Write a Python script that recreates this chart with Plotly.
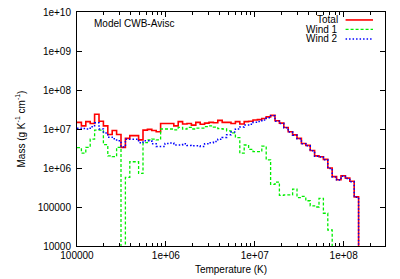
import numpy as np
import plotly.graph_objects as go

# ---- data (log10 of mass per bin; None = empty bin) ----
log_t_min = 5.0      # first bin edge, log10(T)
log_t_bin = 0.0495   # bin width in dex

total_log = [7.17, 7.08, 7.19, 7.14, 7.38, 7.20, 7.08, 6.86, 6.96, 6.86,
             6.53, 6.76, 6.83, 6.83, 6.72, 6.97, 6.99, 6.96, 6.93, 7.14,
             7.14, 7.14, 7.08, 7.19, 7.13, 7.14, 7.10, 7.17, 7.12, 7.15,
             7.17, 7.16, 7.22, 7.17, 7.17, 7.14, 7.19, 7.13, 7.19, 7.20,
             7.23, 7.24, 7.27, 7.31, 7.35, 7.21, 7.15, 7.04, 6.93, 6.85,
             6.76, 6.63, 6.58, 6.45, 6.31, 6.29, 6.22, 6.00, 5.78, 5.70,
             5.80, 5.74, 5.66, 5.26]

wind1_log = [6.52, 6.38, 6.53, 6.74, 6.97, 6.97, 6.60, 6.31, 6.29, 6.53,
             None, 5.76, 6.16, 6.16, 5.86, 6.65, 6.72, 6.74, 6.72, 7.00,
             7.00, 7.00, 6.98, 7.04, 7.00, 7.04, 7.00, 7.02, 7.02, 7.06,
             7.08, 7.05, 7.01, 7.00, 6.95, 6.90, 6.78, 6.38, 6.59, 6.48,
             6.42, 6.42, 6.56, 6.21, 5.58, 5.64, 5.30, 5.31, 5.31, 5.46,
             5.24, 5.27, 5.16, 5.03, 5.00, 5.22, 4.84, 4.41, None, None,
             None, None, None, None]

wind2_log = [7.02, 7.01, 7.00, 7.06, 7.16, 7.00, 6.90, 6.79, 6.75, 6.70,
             6.54, 6.74, 6.74, 6.74, 6.65, 6.70, 6.70, 6.62, 6.55, 6.55,
             6.63, 6.64, 6.59, 6.59, 6.62, 6.58, 6.57, 6.57, 6.55, 6.62,
             6.65, 6.68, 6.74, 6.78, 6.85, 6.92, 7.00, 7.05, 7.10, 7.12,
             7.17, 7.19, 7.23, 7.29, 7.34, 7.20, 7.14, 7.03, 6.92, 6.84,
             6.75, 6.62, 6.57, 6.44, 6.30, 6.28, 6.21, 5.99, 5.77, 5.69,
             5.79, 5.73, 5.65, 5.25]

x_tick_vals = [1e5, 1e6, 1e7, 1e8]
x_tick_text = ["100000", "1e+06", "1e+07", "1e+08"]
y_tick_vals = [1e4, 1e5, 1e6, 1e7, 1e8, 1e9, 1e10]
y_tick_text = ["10000", "100000", "1e+06", "1e+07", "1e+08", "1e+09", "1e+10"]

FLOOR = 1.0  # empty bins drawn far below the axis (clipped)
edges = 10 ** (log_t_min + log_t_bin * np.arange(len(total_log) + 1))


def step_y(vals):
    return [10 ** v if v is not None else FLOOR for v in vals] + [FLOOR]


FONT = "Liberation Sans, Arial, sans-serif"
fig = go.Figure()
series = [
    ("Total", total_log, "#ff0000", "solid", 1.6),
    ("Wind 1", wind1_log, "#00ee00", "3px,2px", 1.3),
    ("Wind 2", wind2_log, "#0000ff", "1.5px,2px", 1.5),
]
for name, vals, col, dash, w in series:
    fig.add_trace(go.Scatter(x=edges, y=step_y(vals), mode="lines", name=name,
                             line=dict(color=col, width=w, dash=dash, shape="hv"),
                             showlegend=False, hoverinfo="skip"))

minor_x = [k * 10 ** d for d in range(5, 9) for k in range(2, 10) if k * 10 ** d < 2.9e8]

fig.update_layout(
    width=400, height=279,
    margin=dict(l=77, r=15, t=12, b=33, autoexpand=False),
    paper_bgcolor="white", plot_bgcolor="white",
    font=dict(family=FONT, size=10, color="black"),
    xaxis=dict(type="log", range=[5, 8.465], tickmode="array",
               tickvals=x_tick_vals, ticktext=x_tick_text,
               ticks="inside", ticklen=5, tickcolor="black",
               showline=True, linecolor="black", linewidth=1, mirror="allticks",
               showgrid=False, zeroline=False, automargin=False,
               minor=dict(tickmode="array", tickvals=minor_x, ticks="inside",
                          ticklen=3, tickcolor="black", showgrid=False),
               title=dict(text="Temperature (K)", font=dict(size=10), standoff=5)),
    yaxis=dict(type="log", range=[4, 10], tickmode="array",
               tickvals=y_tick_vals, ticktext=y_tick_text,
               ticks="inside", ticklen=5, tickcolor="black",
               showline=True, linecolor="black", linewidth=1, mirror="allticks",
               showgrid=False, zeroline=False, ticklabelstandoff=3, automargin=False,
               title=dict(text="Mass (g K<sup>-1</sup> cm<sup>-1</sup>)",
                          font=dict(size=10), standoff=10)),
)

fig.add_annotation(x=0.048, y=0.952, xref="paper", yref="paper", xanchor="left",
                   yanchor="middle", text="Model CWB-Avisc", showarrow=False,
                   font=dict(size=10))

leg_y = [0.966, 0.926, 0.885]
for (name, vals, col, dash, w), yy in zip(series, leg_y):
    fig.add_annotation(x=0.854, y=yy, xref="paper", yref="paper", xanchor="right",
                       yanchor="middle", text=name, showarrow=False, font=dict(size=10))
    fig.add_shape(type="line", xref="paper", yref="paper", x0=0.872, x1=0.961,
                  y0=yy, y1=yy, line=dict(color=col, width=w, dash=dash))

fig.write_html("out.html", config={"displayModeBar": False},
               post_script="document.body.style.margin='0px';document.body.style.overflow='hidden';")
